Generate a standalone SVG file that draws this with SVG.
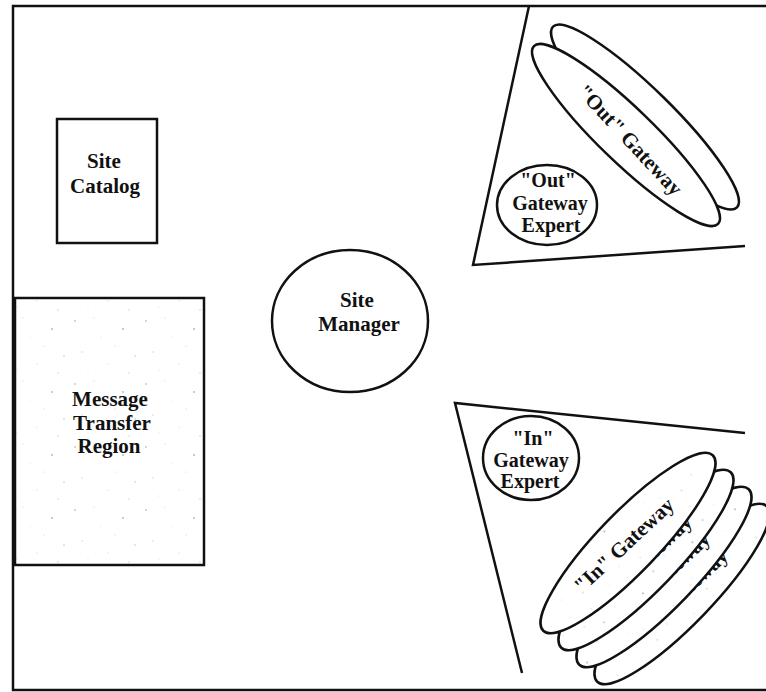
<svg xmlns="http://www.w3.org/2000/svg" width="766" height="692" viewBox="0 0 766 692">
  <style>
    .ln { fill: none; stroke: #111; stroke-width: 2.5; }
    .shape { fill: #fff; stroke: #111; stroke-width: 2.5; }
    .speck { fill: url(#speckle); stroke: #111; stroke-width: 2.5; }
    .lbl { font-family: "Liberation Serif", "Times New Roman", serif; font-weight: bold; font-size: 21px; fill: #111; text-anchor: middle; }
    .sm { font-size: 20px; }
  </style>
  <defs>
    <!-- light grainy fill used by the message region and the "In" gateways -->
    <pattern id="speckle" width="71" height="63" patternUnits="userSpaceOnUse">
      <rect width="71" height="63" fill="#fff"/>
      <circle cx="4" cy="6" r="0.9" fill="#c4c4c4"/>
      <circle cx="23" cy="3" r="0.6" fill="#d4d4d4"/>
      <circle cx="52" cy="14" r="1" fill="#b8b8b8"/>
      <circle cx="11" cy="37" r="0.7" fill="#cfcfcf"/>
      <circle cx="37" cy="49" r="0.6" fill="#d0d0d0"/>
      <circle cx="64" cy="41" r="0.8" fill="#c8c8c8"/>
      <circle cx="30" cy="22" r="0.5" fill="#dadada"/>
      <circle cx="58" cy="58" r="0.7" fill="#cccccc"/>
      <circle cx="17" cy="55" r="0.5" fill="#d6d6d6"/>
      <circle cx="44" cy="31" r="0.6" fill="#d2d2d2"/>
    </pattern>
  </defs>

  <rect width="766" height="692" fill="#fff"/>

  <!-- site boundary (runs off the right edge) -->
  <path class="ln" d="M766,6 H13 V690 H766"/>

  <g id="site-catalog">
    <rect class="shape" x="57" y="119" width="100" height="124"/>
    <text class="lbl" x="104" y="168">Site</text>
    <text class="lbl" x="105" y="193">Catalog</text>
  </g>

  <g id="message-transfer-region">
    <rect class="speck" x="15" y="298" width="189" height="267"/>
    <text class="lbl" x="110" y="406">Message</text>
    <text class="lbl" x="112" y="430">Transfer</text>
    <text class="lbl" x="109" y="453">Region</text>
  </g>

  <g id="site-manager">
    <ellipse class="shape" cx="350" cy="321" rx="78" ry="71"/>
    <text class="lbl" x="357" y="307">Site</text>
    <text class="lbl" x="359" y="331">Manager</text>
  </g>

  <!-- wedge regions -->
  <g id="connectors">
    <polyline class="ln" points="529,6 473,265 745,246"/>
    <polyline class="ln" points="745,433 455,403 522,673"/>
  </g>

  <g id="out-gateway-2">
    <ellipse class="shape" cx="645" cy="117" rx="129" ry="27" transform="rotate(44.5 645 117)"/>
  </g>
  <g id="out-gateway-1">
    <ellipse class="shape" cx="626" cy="135" rx="128" ry="27" transform="rotate(44 626 135)"/>
    <text class="lbl" transform="translate(630,140) rotate(47)" y="7">"Out" Gateway</text>
  </g>

  <g id="out-gateway-expert">
    <ellipse class="shape" cx="547" cy="205" rx="50" ry="40"/>
    <text class="lbl sm" x="548" y="187">"Out"</text>
    <text class="lbl sm" x="550" y="210">Gateway</text>
    <text class="lbl sm" x="551" y="232">Expert</text>
  </g>

  <g id="in-gateway-expert">
    <ellipse class="shape" cx="531" cy="458" rx="48" ry="42"/>
    <text class="lbl sm" x="533" y="445">"In"</text>
    <text class="lbl sm" x="531" y="467">Gateway</text>
    <text class="lbl sm" x="530" y="488">Expert</text>
  </g>

  <g id="in-gateway-4">
    <ellipse class="speck" cx="682" cy="594" rx="122" ry="30" transform="rotate(-46 682 594)"/>
    <text class="lbl" transform="translate(678,596) rotate(-43)" y="7">"In" Gateway</text>
  </g>
  <g id="in-gateway-3">
    <ellipse class="speck" cx="664" cy="577" rx="122" ry="30" transform="rotate(-46 664 577)"/>
    <text class="lbl" transform="translate(660,579) rotate(-43)" y="7">"In" Gateway</text>
  </g>
  <g id="in-gateway-2">
    <ellipse class="speck" cx="646" cy="560" rx="122" ry="30" transform="rotate(-46 646 560)"/>
    <text class="lbl" transform="translate(642,562) rotate(-43)" y="7">"In" Gateway</text>
  </g>
  <g id="in-gateway-1">
    <ellipse class="speck" cx="628" cy="543" rx="122" ry="30" transform="rotate(-46 628 543)"/>
    <text class="lbl" transform="translate(624,545) rotate(-43)" y="7">"In" Gateway</text>
  </g>
</svg>
